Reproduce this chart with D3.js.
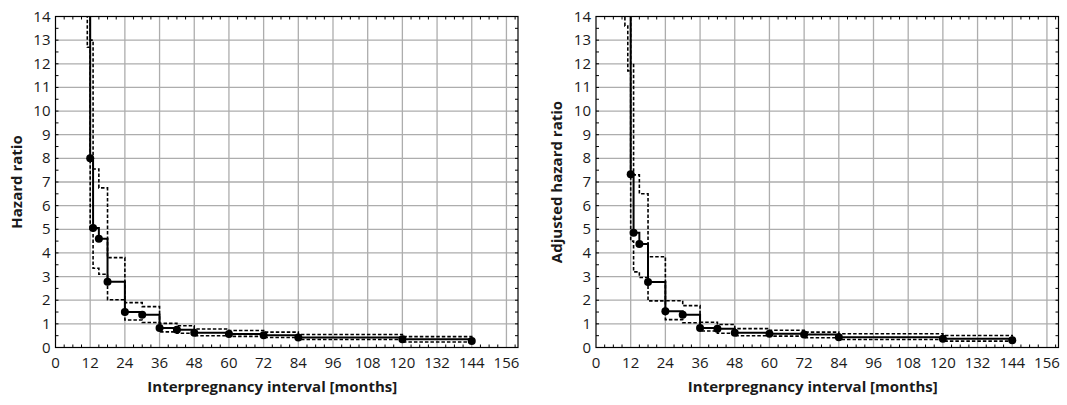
<!DOCTYPE html>
<html>
<head>
<script src="https://cdn.jsdelivr.net/npm/d3@7"></script>
<style>
  body { margin: 0; background: #fff; }
  text { font-family: "Open Sans", sans-serif; fill: #1a1a1a; }
</style>
</head>
<body>
<svg width="1067" height="405"></svg>
<script>
// interval start (months) for each step; the first points sit above the top of the chart
var months = [6, 10, 11, 12, 13, 15, 18, 24, 30, 36, 42, 48, 60, 72, 84, 120, 144];

// left panel: crude hazard ratio with 95% CI
var hrCrude    = [40, 40, 25, 8.0, 5.05, 4.6, 2.78, 1.5, 1.38, 0.82, 0.75, 0.62, 0.57, 0.52, 0.42, 0.35, 0.28];
var lowerCrude = [20, 20, 12.7, 5.0, 3.35, 3.1, 2.02, 1.16, 1.06, 0.66, 0.6, 0.5, 0.47, 0.42, 0.34, 0.23, 0.2];
var upperCrude = [80, 80, 50, 13.0, 7.55, 6.75, 3.8, 1.9, 1.73, 1.02, 0.92, 0.78, 0.72, 0.65, 0.55, 0.46, 0.4];

// right panel: adjusted hazard ratio with 95% CI
var hrAdj    = [40, 30, 25, 7.33, 4.85, 4.38, 2.77, 1.53, 1.39, 0.83, 0.79, 0.62, 0.58, 0.55, 0.43, 0.37, 0.31];
var lowerAdj = [20, 13.6, 11.7, 4.5, 3.2, 2.96, 1.97, 1.18, 1.05, 0.7, 0.6, 0.5, 0.48, 0.41, 0.34, 0.27, 0.22];
var upperAdj = [80, 60, 50, 12.0, 7.3, 6.5, 3.84, 1.98, 1.77, 1.07, 0.97, 0.8, 0.73, 0.65, 0.58, 0.51, 0.45];

var xTickValues = d3.range(0, 157, 12);
var yTickValues = d3.range(0, 15, 1);
var xLabel = "Interpregnancy interval [months]";

var svg = d3.select("svg");
var plotW = 462.5, plotH = 331;

function panel(left, top, id, yLabel, hr, lo, hi) {
    var x = d3.scaleLinear().domain([0, 160]).range([0, plotW]);
    var y = d3.scaleLinear().domain([0, 14]).range([plotH, 0]);

    var g = svg.append("g").attr("transform", "translate(" + left + "," + top + ")");

    g.append("clipPath").attr("id", id)
        .append("rect").attr("width", plotW).attr("height", plotH);

    // grid
    g.selectAll(".gx").data(xTickValues.filter(function(d) { return d > 0; }))
        .enter().append("line")
        .attr("x1", function(d) { return x(d); }).attr("x2", function(d) { return x(d); })
        .attr("y1", 0).attr("y2", plotH)
        .attr("stroke", "#adadad").attr("stroke-width", 1.3);
    g.selectAll(".gy").data(yTickValues.filter(function(d) { return d > 0 && d < 14; }))
        .enter().append("line")
        .attr("y1", function(d) { return y(d); }).attr("y2", function(d) { return y(d); })
        .attr("x1", 0).attr("x2", plotW)
        .attr("stroke", "#adadad").attr("stroke-width", 1.3);

    // small inward ticks
    var minorX = d3.range(3, 160, 3).filter(function(d) { return d % 12 != 0; });
    [0, plotH].forEach(function(edge) {
        g.selectAll(null).data(minorX).enter().append("line")
            .attr("x1", function(d) { return x(d); }).attr("x2", function(d) { return x(d); })
            .attr("y1", edge).attr("y2", edge == 0 ? 3 : plotH - 3)
            .attr("stroke", "#000").attr("stroke-width", 1);
    });
    var minorY = d3.range(0.5, 14, 0.5);
    [0, plotW].forEach(function(edge) {
        g.selectAll(null).data(minorY).enter().append("line")
            .attr("y1", function(d) { return y(d); }).attr("y2", function(d) { return y(d); })
            .attr("x1", edge).attr("x2", edge == 0 ? 3 : plotW - 3)
            .attr("stroke", "#000").attr("stroke-width", 1);
    });

    // step lines
    var pts = function(vals) { return months.map(function(m, i) { return [m, vals[i]]; }); };
    var line = d3.line()
        .x(function(d) { return x(d[0]); })
        .y(function(d) { return y(d[1]); })
        .curve(d3.curveStepAfter);

    var data = g.append("g").attr("clip-path", "url(#" + id + ")");
    [lo, hi].forEach(function(s) {
        data.append("path").attr("d", line(pts(s)))
            .attr("fill", "none").attr("stroke", "#000")
            .attr("stroke-width", 1.6).attr("stroke-dasharray", "3.5,2");
    });
    data.append("path").attr("d", line(pts(hr)))
        .attr("fill", "none").attr("stroke", "#000").attr("stroke-width", 2);
    data.selectAll("circle").data(pts(hr).filter(function(d) { return d[1] <= 14; }))
        .enter().append("circle")
        .attr("cx", function(d) { return x(d[0]); })
        .attr("cy", function(d) { return y(d[1]); })
        .attr("r", 4).attr("fill", "#000");

    // frame
    g.append("rect").attr("width", plotW).attr("height", plotH)
        .attr("fill", "none").attr("stroke", "#000").attr("stroke-width", 1.2);

    // tick labels
    g.selectAll(".xl").data(xTickValues).enter().append("text")
        .attr("x", function(d) { return x(d); }).attr("y", plotH + 20)
        .attr("text-anchor", "middle").attr("font-size", 15)
        .text(function(d) { return d; });
    g.selectAll(".yl").data(yTickValues).enter().append("text")
        .attr("x", -5).attr("y", function(d) { return y(d) + 5; })
        .attr("text-anchor", "end").attr("font-size", 15)
        .text(function(d) { return d; });

    g.append("text").attr("x", x(75)).attr("y", plotH + 44)
        .attr("text-anchor", "middle").attr("font-size", 15).attr("font-weight", "bold")
        .text(xLabel);
    g.append("text")
        .attr("transform", "translate(" + (-34) + "," + (plotH / 2) + ") rotate(-90)")
        .attr("text-anchor", "middle").attr("font-size", 15).attr("font-weight", "bold")
        .text(yLabel);
}

panel(55.5, 16.5, "clipL", "Hazard ratio", hrCrude, lowerCrude, upperCrude);
panel(596, 16.5, "clipR", "Adjusted hazard ratio", hrAdj, lowerAdj, upperAdj);
</script>
</body>
</html>
